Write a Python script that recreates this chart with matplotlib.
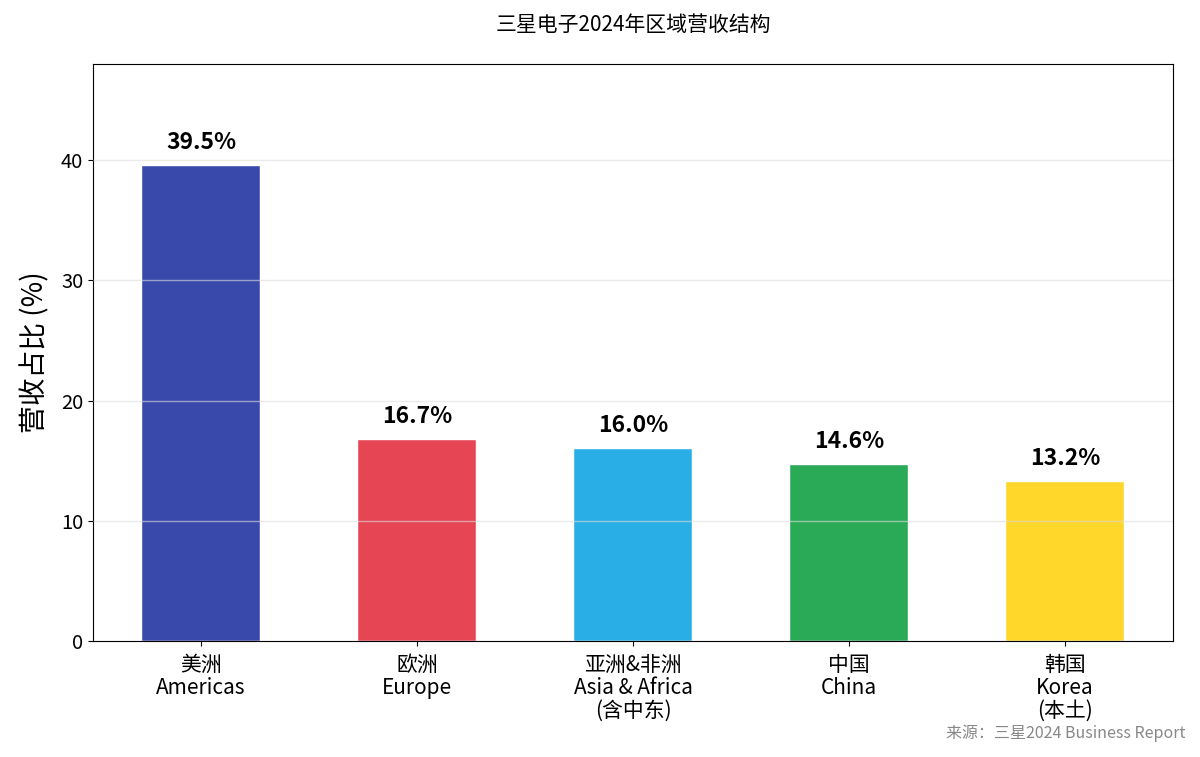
import matplotlib
matplotlib.use("Agg")
import matplotlib.pyplot as plt

plt.rcParams['font.family'] = ['Noto Sans CJK SC', 'DejaVu Sans']

categories = ["美洲\nAmericas", "欧洲\nEurope", "亚洲&非洲\nAsia & Africa\n(含中东)", "中国\nChina", "韩国\nKorea\n(本土)"]
values = [39.5, 16.7, 16.0, 14.6, 13.2]
colors = ["#3949AB", "#E64553", "#29AFE6", "#2AA957", "#FFD62A"]

fig = plt.figure(figsize=(12, 7.57), dpi=100)
ax = fig.add_axes([93/1200, 1-641/757, (1173-93)/1200, (641-64)/757])

x = list(range(len(values)))
ax.bar(x, values, width=0.55, color=colors, edgecolor='white', linewidth=0.3, zorder=2)
ax.set_xlim(-0.5, 4.5)
ax.set_ylim(0, 48)
ax.set_yticks([0, 10, 20, 30, 40])
ax.yaxis.grid(True, color='#dddddd', linewidth=1, alpha=0.6, zorder=3)
ax.set_axisbelow(False)
ax.set_xticks(x)
ax.set_xticklabels(categories, fontsize=15, linespacing=1.05)
ax.tick_params(axis='y', labelsize=14.5)
ax.tick_params(axis='x', pad=6)
ax.set_ylabel("营收占比 (%)", fontsize=20, labelpad=8)

for xi, v in zip(x, values):
    ax.text(xi, v + 1.0, f"{v:.1f}%", ha='center', va='bottom', fontsize=16.5, fontweight='bold', zorder=4)

fig.text(633/1200, 1-25/757, "三星电子2024年区域营收结构", ha='center', va='center', fontsize=15)
fig.text(1185/1200, 1-733/757, "来源：三星2024 Business Report", ha='right', va='center', fontsize=11.5, color='#888888')

fig.savefig("out.png", dpi=100)
